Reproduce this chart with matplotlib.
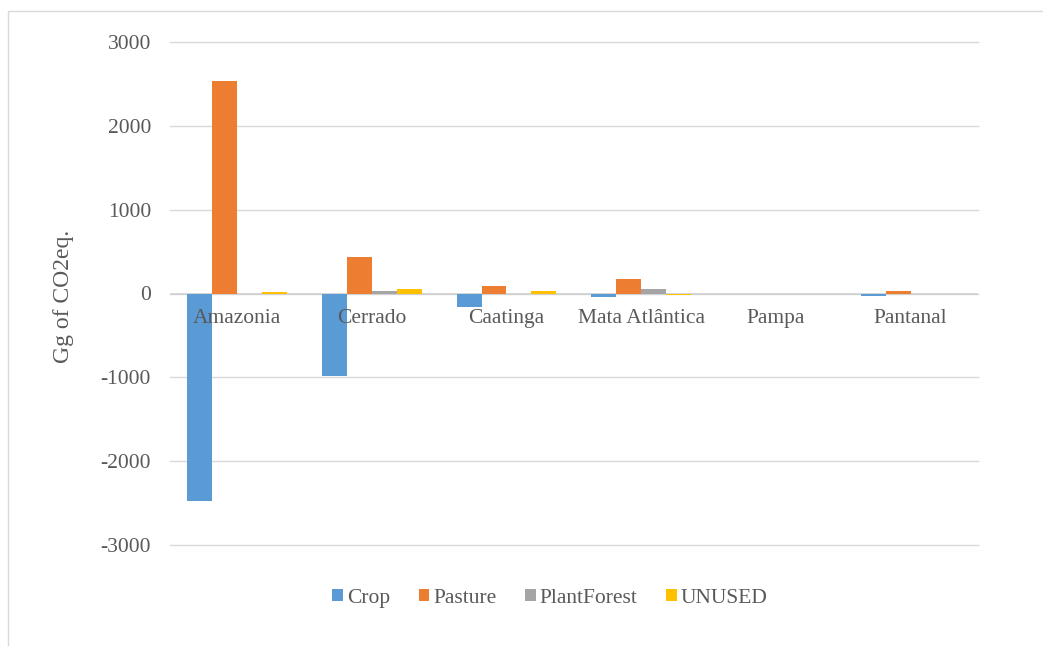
import numpy as np
import matplotlib.pyplot as plt
from matplotlib.patches import Rectangle

plt.rcParams["font.family"] = ["Liberation Serif", "DejaVu Serif"]
plt.rcParams["axes.unicode_minus"] = False

biomes = ["Amazonia", "Cerrado", "Caatinga", "Mata Atlântica", "Pampa", "Pantanal"]
crop = [-2470, -990, -165, -45, 0, -25]
pasture = [2530, 440, 85, 170, 0, 25]
plant_forest = [0, 35, 0, 50, 0, 0]
unused = [20, 50, 30, -15, 0, 0]

series = [
    ("Crop", crop, "#5B9BD5"),
    ("Pasture", pasture, "#ED7D31"),
    ("PlantForest", plant_forest, "#A5A5A5"),
    ("UNUSED", unused, "#FFC000"),
]
text_color = "#595959"

fig = plt.figure(figsize=(10.43, 6.46), dpi=100)
ax = fig.add_axes([169.6 / 1043, 1 - 545 / 646, (978 - 169.6) / 1043, (545 - 42) / 646])

# outer chart frame (Excel style)
fig.add_artist(Rectangle((8 / 1043, -0.01), 1.1, 1 - 11 / 646 + 0.01, transform=fig.transFigure,
                         fill=False, edgecolor="#D9D9D9", linewidth=1))

x = np.arange(len(biomes))
w = 0.185
for i, (name, vals, color) in enumerate(series):
    ax.bar(x + (i - 1.5) * w, vals, width=w, color=color, label=name, zorder=3)

ax.set_xlim(-0.5, len(biomes) - 0.5)
ax.set_ylim(-3000, 3000)
ax.set_yticks(range(-3000, 3001, 1000))
ax.tick_params(axis="y", length=0, labelsize=15.5, colors=text_color, pad=13.4)
ax.grid(axis="y", color="#D9D9D9", linewidth=1, zorder=0)
for gl in ax.get_ygridlines():
    gl.set_clip_on(False)
for s in ax.spines.values():
    s.set_visible(False)
ax.axhline(0, color="#D0D0D0", linewidth=1.2, zorder=2)

# category labels sit just under the zero line
ax.set_xticks([])
for xi, name in zip(x, biomes):
    ax.text(xi, -300, name, ha="center", va="center", fontsize=15.5, color=text_color, zorder=4)

fig.text(64 / 1043, 1 - 296 / 646, "Gg of CO2eq.", rotation=90, ha="center", va="center",
         fontsize=17, color=text_color)

ax.legend(loc="center", bbox_to_anchor=(0.4706, -0.1054), ncol=4, frameon=False,
          fontsize=15.5, handlelength=0.5, handleheight=0.5, handletextpad=0.2,
          columnspacing=1.3, labelcolor=text_color)

fig.savefig("out.png", dpi=100)
